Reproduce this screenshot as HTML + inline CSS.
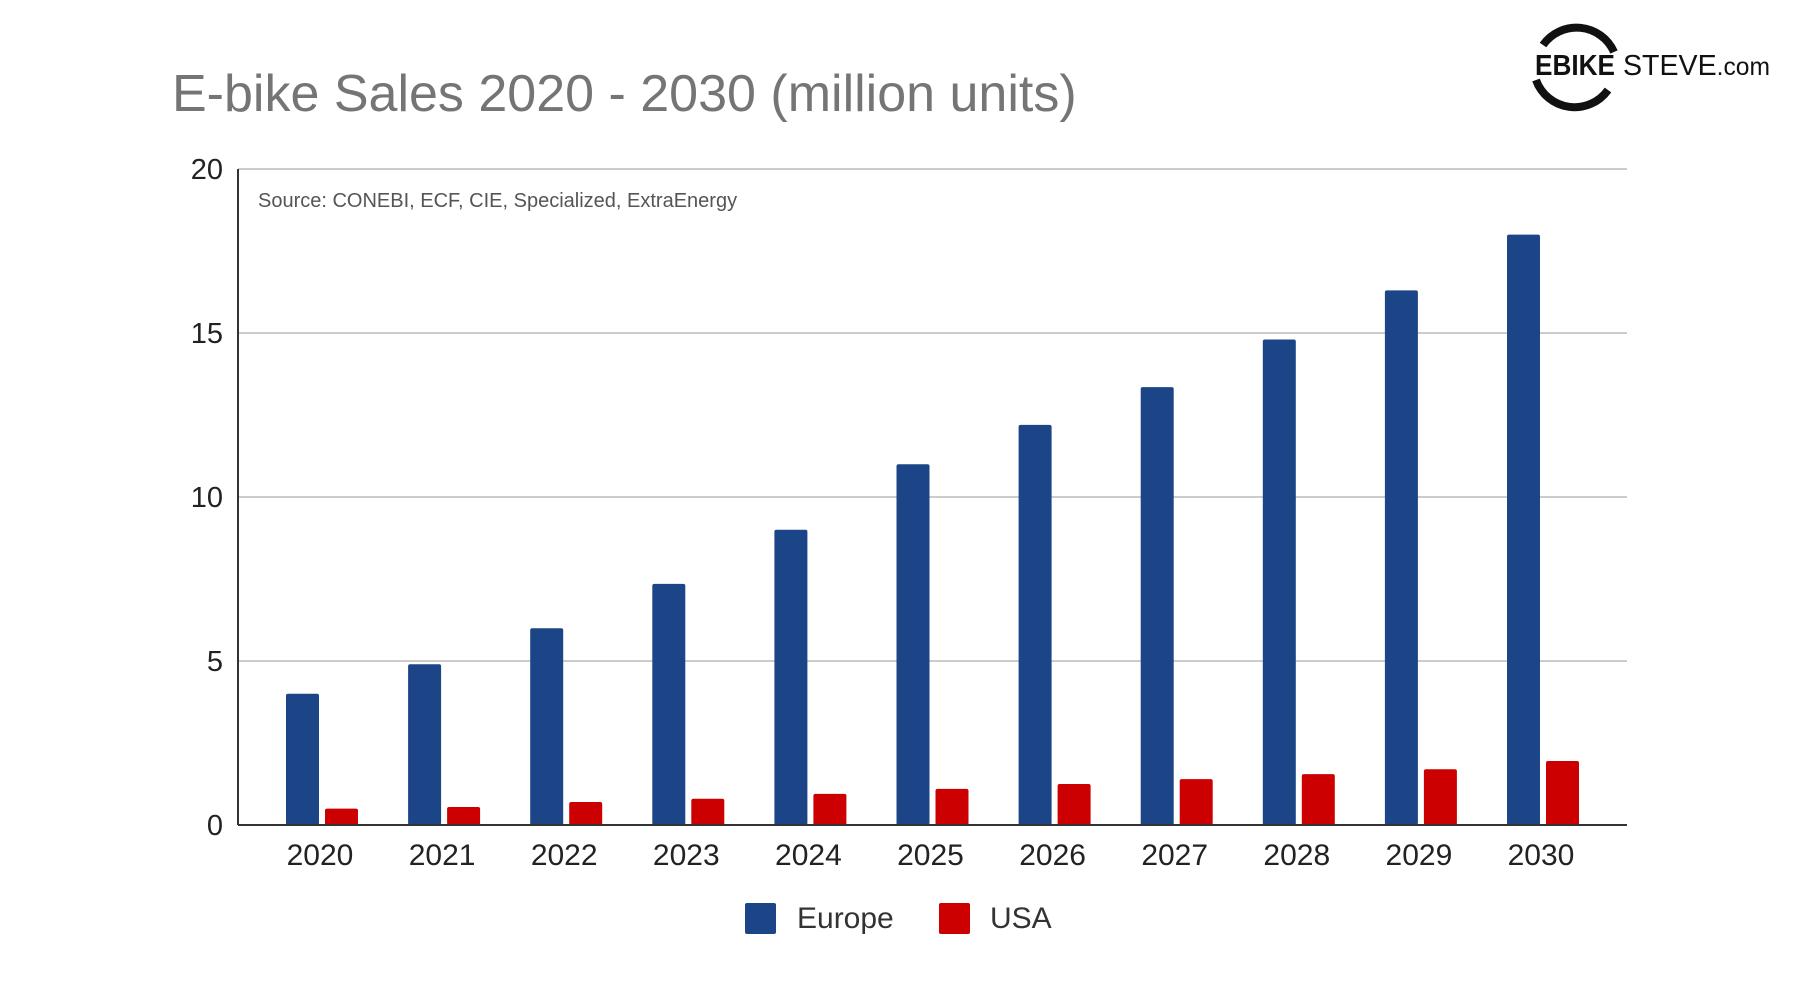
<!DOCTYPE html>
<html><head><meta charset="utf-8"><style>
body{margin:0;background:#fff;}
svg{display:block;font-family:"Liberation Sans",Arial,sans-serif;}
</style></head><body>
<svg width="1795" height="1004" viewBox="0 0 1795 1004">
<text x="172" y="111" font-size="52" fill="#757575">E-bike Sales 2020 - 2030 (million units)</text>
<g>
<path d="M1543 45 A41 41 0 0 1 1614 52" fill="none" stroke="#111" stroke-width="8"/>
<path d="M1536 80 A41 41 0 0 0 1608 90" fill="none" stroke="#111" stroke-width="8"/>
<text x="1535" y="75" font-size="29" font-weight="bold" fill="#111" textLength="80" lengthAdjust="spacingAndGlyphs">EBIKE</text>
<text x="1623" y="75" font-size="29" fill="#111" textLength="147" lengthAdjust="spacingAndGlyphs">STEVE<tspan font-size="25">.com</tspan></text>
</g>
<g id="grid"></g>
<g id="bars"></g>
<g id="labels"></g>
<text x="258" y="207" font-size="20" fill="#555">Source: CONEBI, ECF, CIE, Specialized, ExtraEnergy</text>
<g>
<rect x="745" y="903" width="31" height="31" rx="2" fill="#1c4587"/>
<text x="797" y="928" font-size="30" fill="#333">Europe</text>
<rect x="939" y="903" width="31" height="31" rx="2" fill="#cc0000"/>
<text x="990" y="928" font-size="30" fill="#333">USA</text>
</g>
</svg>
<script>
const categories=["2020","2021","2022","2023","2024","2025","2026","2027","2028","2029","2030"];
const europe=[4.0,4.9,6.0,7.35,9.0,11.0,12.2,13.35,14.8,16.3,18.0];
const usa=[0.5,0.55,0.7,0.8,0.95,1.1,1.25,1.4,1.55,1.7,1.95];
const yTicks=[0,5,10,15,20];
const NS="http://www.w3.org/2000/svg";
const L=238,R=1627,T=169,B=825,yMax=20;
const y=v=>B-(v/yMax)*(B-T);
const pad=84;
const step=(R-L-2*pad)/(categories.length-1);
const xc=i=>L+pad+step*i;
function mk(tag,attrs,parent){const e=document.createElementNS(NS,tag);for(const k in attrs)e.setAttribute(k,attrs[k]);parent.appendChild(e);return e;}
const grid=document.getElementById('grid'),bars=document.getElementById('bars'),labels=document.getElementById('labels');
yTicks.forEach(t=>{
 if(t>0){const g=mk('line',{x1:L,x2:R,y1:y(t),y2:y(t),stroke:'#ccc','stroke-width':2},grid);
 
 }
 const tx=mk('text',{x:223,y:y(t)+10,'font-size':29,fill:'#222','text-anchor':'end'},labels);
 tx.textContent=t;
 
 
});
const bw=33,gap=6;
categories.forEach((c,i)=>{
 const cx=xc(i);
 const e=mk('rect',{x:cx-gap/2-bw,y:y(europe[i]),width:bw,height:B-y(europe[i]),rx:2,fill:'#1c4587'},bars);
 
 
 const u=mk('rect',{x:cx+gap/2,y:y(usa[i]),width:bw,height:B-y(usa[i]),rx:2,fill:'#cc0000'},bars);
 
 
 const tx=mk('text',{x:cx-2,y:865,'font-size':30,fill:'#222','text-anchor':'middle'},labels);
 tx.textContent=c;
 
 
});
const ax=mk('line',{x1:L,x2:R,y1:B,y2:B,stroke:'#333','stroke-width':2},labels);


const ay=mk('line',{x1:L,x2:L,y1:T,y2:B,stroke:'#333','stroke-width':2},labels);


</script>
</body></html>
